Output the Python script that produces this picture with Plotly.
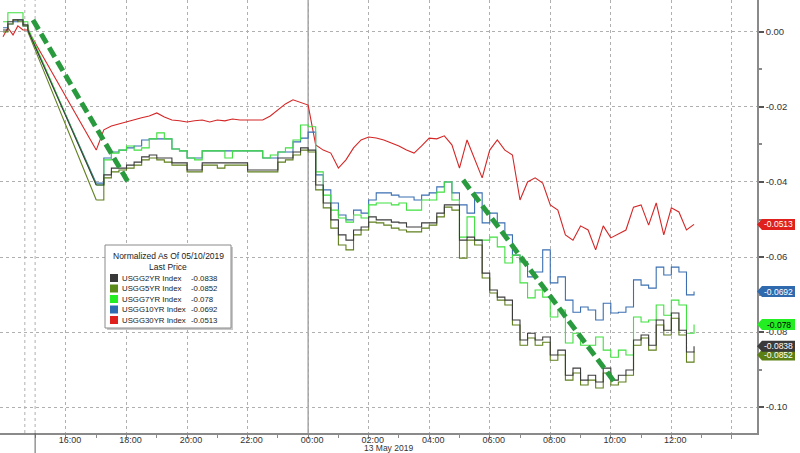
import plotly.graph_objects as go

# ---------------- data ----------------
# hours relative to 00:00 on 13 May 2019 (Friday session shown compressed before the gap)
fri_hours = [-10.08, -9.92, -9.75, -9.59, -9.42, -9.26]
sun_hours = [round(-7.0 + 0.25 * i, 2) for i in range(80)]

names = ["USGG2YR Index", "USGG5YR Index", "USGG7YR Index", "USGG10YR Index", "USGG30YR Index"]
legend_values = ["-0.0838", "-0.0852", "-0.078", "-0.0692", "-0.0513"]

usgg2_fri = [0.0005, 0.0027, 0.0032, 0.0032, 0.0019, 0.0005]
usgg2 = [-0.0408, -0.0381, -0.0363, -0.0363, -0.0355, -0.0347, -0.0333, -0.0328, -0.0336, -0.0336,
         -0.0349, -0.0349, -0.0368, -0.0368, -0.0349, -0.0349, -0.0349, -0.0349, -0.0349, -0.0349,
         -0.0368, -0.0368, -0.0368, -0.0368, -0.0336, -0.0336, -0.0320, -0.0309, -0.0315, -0.0408,
         -0.0456, -0.0501, -0.0541, -0.0555, -0.0528, -0.0520, -0.0493, -0.0501, -0.0501, -0.0507,
         -0.0509, -0.0520, -0.0520, -0.0509, -0.0509, -0.0483, -0.0461, -0.0461, -0.0555, -0.0547,
         -0.0555, -0.0643, -0.0688, -0.0707, -0.0715, -0.0768, -0.0821, -0.0803, -0.0821, -0.0813,
         -0.0861, -0.0848, -0.0915, -0.0896, -0.0928, -0.0915, -0.0933, -0.0896, -0.0928, -0.0915,
         -0.0901, -0.0821, -0.0808, -0.0835, -0.0768, -0.0795, -0.0749, -0.0795, -0.0853, -0.0838]

usgg5_fri = [0.0, 0.0021, 0.0032, 0.0027, 0.0016, 0.0]
usgg5 = [-0.0448, -0.0389, -0.0373, -0.0368, -0.0363, -0.0355, -0.0341, -0.0336, -0.0341, -0.0347,
         -0.0355, -0.0355, -0.0373, -0.0373, -0.0355, -0.0355, -0.0363, -0.0355, -0.0355, -0.0355,
         -0.0373, -0.0373, -0.0373, -0.0373, -0.0347, -0.0341, -0.0328, -0.0315, -0.0320, -0.0421,
         -0.0469, -0.0523, -0.0568, -0.0581, -0.0541, -0.0528, -0.0507, -0.0509, -0.0515, -0.0523,
         -0.0528, -0.0533, -0.0533, -0.0523, -0.0515, -0.0493, -0.0467, -0.0475, -0.0603, -0.0555,
         -0.0568, -0.0656, -0.0696, -0.0715, -0.0728, -0.0781, -0.0835, -0.0816, -0.0835, -0.0827,
         -0.0875, -0.0861, -0.0928, -0.0909, -0.0941, -0.0928, -0.0949, -0.0909, -0.0941, -0.0933,
         -0.0915, -0.0835, -0.0816, -0.0848, -0.0781, -0.0808, -0.0763, -0.0808, -0.0880, -0.0852]

usgg7_fri = [0.0027, 0.0051, 0.0051, 0.0051, 0.0027, 0.0011]
usgg7 = [-0.0408, -0.0341, -0.0323, -0.0315, -0.0304, -0.0315, -0.0309, -0.0285, -0.0269, -0.0285,
         -0.0312, -0.0317, -0.0336, -0.0341, -0.0317, -0.0317, -0.0317, -0.0336, -0.0317, -0.0317,
         -0.0317, -0.0317, -0.0336, -0.0328, -0.0320, -0.0309, -0.0288, -0.0248, -0.0253, -0.0373,
         -0.0435, -0.0475, -0.0496, -0.0507, -0.0488, -0.0496, -0.0461, -0.0456, -0.0456, -0.0461,
         -0.0456, -0.0475, -0.0475, -0.0448, -0.0448, -0.0427, -0.0400, -0.0448, -0.0547, -0.0493,
         -0.0555, -0.0555, -0.0547, -0.0573, -0.0616, -0.0595, -0.0669, -0.0709, -0.0688, -0.0707,
         -0.0760, -0.0741, -0.0829, -0.0803, -0.0835, -0.0835, -0.0813, -0.0848, -0.0867, -0.0848,
         -0.0861, -0.0760, -0.0773, -0.0768, -0.0728, -0.0755, -0.0715, -0.0728, -0.0803, -0.0780]

usgg10_fri = [0.0011, 0.0021, 0.0027, 0.0032, 0.0016, 0.0005]
usgg10 = [-0.0403, -0.0336, -0.0320, -0.0315, -0.0309, -0.0304, -0.0288, -0.0285, -0.0285, -0.0285,
          -0.0312, -0.0317, -0.0336, -0.0336, -0.0317, -0.0317, -0.0317, -0.0317, -0.0317, -0.0317,
          -0.0317, -0.0317, -0.0336, -0.0336, -0.0320, -0.0320, -0.0293, -0.0283, -0.0267, -0.0381,
          -0.0421, -0.0456, -0.0488, -0.0501, -0.0475, -0.0483, -0.0448, -0.0429, -0.0429, -0.0435,
          -0.0440, -0.0440, -0.0448, -0.0435, -0.0429, -0.0413, -0.0400, -0.0429, -0.0461, -0.0483,
          -0.0429, -0.0509, -0.0483, -0.0509, -0.0541, -0.0595, -0.0613, -0.0653, -0.0640, -0.0581,
          -0.0669, -0.0653, -0.0715, -0.0747, -0.0733, -0.0741, -0.0768, -0.0723, -0.0749, -0.0747,
          -0.0733, -0.0661, -0.0675, -0.0683, -0.0627, -0.0648, -0.0627, -0.0640, -0.0701, -0.0692]

usgg30_fri = [-0.0013, 0.0011, -0.0008, 0.0016, 0.0005, 0.0005]
usgg30 = [-0.0315, -0.0261, -0.0251, -0.0245, -0.0240, -0.0235, -0.0229, -0.0224, -0.0216, -0.0227,
          -0.0235, -0.0237, -0.0240, -0.0237, -0.0235, -0.0240, -0.0235, -0.0237, -0.0232, -0.0235,
          -0.0235, -0.0237, -0.0235, -0.0224, -0.0208, -0.0192, -0.0181, -0.0187, -0.0195, -0.0301,
          -0.0315, -0.0323, -0.0363, -0.0341, -0.0309, -0.0288, -0.0280, -0.0283, -0.0288, -0.0296,
          -0.0304, -0.0315, -0.0323, -0.0304, -0.0283, -0.0285, -0.0277, -0.0301, -0.0363, -0.0288,
          -0.0341, -0.0389, -0.0315, -0.0288, -0.0315, -0.0328, -0.0448, -0.0400, -0.0389, -0.0403,
          -0.0461, -0.0475, -0.0541, -0.0555, -0.0517, -0.0528, -0.0581, -0.0517, -0.0549, -0.0539,
          -0.0528, -0.0467, -0.0461, -0.0515, -0.0456, -0.0541, -0.0469, -0.0480, -0.0528, -0.0513]

x_tick_hours = [-8, -6, -4, -2, 0, 2, 4, 6, 8, 10, 12, 14]
x_tick_labels = ["16:00", "18:00", "20:00", "22:00", "00:00", "02:00", "04:00",
                 "06:00", "08:00", "10:00", "12:00", ""]
x_minor_hours = [-9, -7, -5, -3, -1, 1, 3, 5, 7, 9, 11, 13]
y_tick_vals = [0.0, -0.02, -0.04, -0.06, -0.08, -0.10]
y_tick_labels = ["0.00", "-0.02", "-0.04", "-0.06", "-0.08", "-0.10"]
y_minor_vals = [-0.01, -0.03, -0.05, -0.07, -0.09]

# hand-drawn trend arrows (hours, value)
trend_lines = [((-9.09, 0.0032), (-5.95, -0.0400)),
               ((5.12, -0.0395), (10.15, -0.0936))]

# ---------------- styling ----------------
line_colors = ["#3c3c3c", "#5f7f1c", "#3fe03f", "#3b6fb2", "#d42626"]
square_colors = ["#383838", "#5a8a1a", "#22ee22", "#2f6bb0", "#e0201c"]
tag_colors = ["#3a3a3a", "#5c7f14", "#22ee22", "#2f69ae", "#e0201c"]
tag_text_colors = ["white", "white", "black", "white", "white"]
tag_shift_px = [0, 3.5, 0, 0, 0]
step_series = [True, True, True, True, False]

fri_data = [usgg2_fri, usgg5_fri, usgg7_fri, usgg10_fri, usgg30_fri]
sun_data = [usgg2, usgg5, usgg7, usgg10, usgg30]

XMIN, XMAX = -10.18, 14.83
YMIN, YMAX = -0.1069, 0.0085
PW, PH = 757.0, 433.0           # plot area size in px
DY = (YMAX - YMIN) / PH          # value per px
LFONT = "Liberation Sans"


def pxx(x):
    return x / PW


def pyy(y):
    return 1 - y / PH


fig = go.Figure()

draw_order = [4, 3, 2, 1, 0]
for i in draw_order:
    shape = "hv" if step_series[i] else "linear"
    fig.add_trace(go.Scatter(x=fri_hours, y=fri_data[i], mode="lines",
                             line=dict(color=line_colors[i], width=1.1, shape=shape),
                             showlegend=False, hoverinfo="skip"))
    fig.add_trace(go.Scatter(x=[fri_hours[-1], sun_hours[0]], y=[fri_data[i][-1], sun_data[i][0]],
                             mode="lines", line=dict(color=line_colors[i], width=1.1),
                             showlegend=False, hoverinfo="skip"))
    fig.add_trace(go.Scatter(x=sun_hours, y=sun_data[i], mode="lines", name=names[i],
                             line=dict(color=line_colors[i], width=1.1, shape=shape),
                             showlegend=False, hoverinfo="skip"))

shapes = []
# extra session separators
for xh in [-9.36, -9.02]:
    shapes.append(dict(type="line", xref="x", yref="paper", x0=xh, x1=xh, y0=0, y1=1,
                       line=dict(color="#b0b0b0", width=1, dash="dot"), layer="below"))
shapes.append(dict(type="line", xref="x", yref="paper", x0=-9.02, x1=-9.02, y0=0, y1=-20 / PH,
                   line=dict(color="#606060", width=1)))
shapes.append(dict(type="line", xref="x", yref="paper", x0=0, x1=0, y0=0, y1=1,
                   line=dict(color="#707070", width=1), layer="below"))

# trend arrows
for (a, b) in trend_lines:
    shapes.append(dict(type="line", xref="x", yref="y", x0=a[0], y0=a[1], x1=b[0], y1=b[1],
                       line=dict(color="#2a9a3e", width=5, dash="11px,5px"), layer="above"))

# legend box
shapes.append(dict(type="rect", xref="paper", yref="paper",
                   x0=pxx(107), x1=pxx(233), y0=pyy(247), y1=pyy(330),
                   line=dict(width=0), fillcolor="#c8c8c8", layer="above"))
shapes.append(dict(type="rect", xref="paper", yref="paper",
                   x0=pxx(105), x1=pxx(231), y0=pyy(245), y1=pyy(328),
                   line=dict(color="#8a8a8a", width=1), fillcolor="white", layer="above"))

annotations = []


def add_text(x, y, text, size, color="#222", xanchor="center", yref="paper"):
    annotations.append(dict(x=x, y=y, xref="paper", yref=yref, text=text, showarrow=False,
                            xanchor=xanchor, yanchor="middle",
                            font=dict(family=LFONT, size=size, color=color)))


add_text(pxx(168), pyy(256), "Normalized As Of 05/10/2019", 8.5)
add_text(pxx(168), pyy(267), "Last Price", 8.5)
for k in range(5):
    ry = 278 + k * 10.5
    shapes.append(dict(type="rect", xref="paper", yref="paper",
                       x0=pxx(110), x1=pxx(118), y0=pyy(ry - 4), y1=pyy(ry + 4),
                       line=dict(width=0), fillcolor=square_colors[k], layer="above"))
    add_text(pxx(120), pyy(ry), names[k], 7.8, xanchor="left")
    add_text(pxx(189), pyy(ry), legend_values[k], 7.8, xanchor="left")

# last-price tags on right axis
for i in [4, 3, 1, 2, 0]:
    v = sun_data[i][-1] - tag_shift_px[i] * DY
    h = 5.5 * DY
    path = (f"M {pxx(757)} {v} L {pxx(762)} {v + h} L {pxx(795)} {v + h} "
            f"L {pxx(795)} {v - h} L {pxx(762)} {v - h} Z")
    shapes.append(dict(type="path", xref="paper", yref="y", path=path,
                       fillcolor=tag_colors[i], line=dict(width=0), layer="above"))
    add_text(pxx(778.5), v, legend_values[i], 8.5, color=tag_text_colors[i], yref="y")

add_text(pxx(388), pyy(448), "13 May 2019", 8.5, color="#333")

fig.update_layout(
    width=800, height=453,
    margin=dict(l=0, r=43, t=0, b=20),
    paper_bgcolor="white", plot_bgcolor="white",
    shapes=shapes, annotations=annotations,
    showlegend=False,
    font=dict(family=LFONT, size=9.5, color="#333"),
    xaxis=dict(range=[XMIN, XMAX], tickmode="array", tickvals=x_tick_hours, ticktext=x_tick_labels,
               showgrid=True, gridcolor="#b0b0b0", griddash="dot", gridwidth=1,
               showline=True, linecolor="#8a8a8a", linewidth=1.5,
               ticks="outside", ticklen=4, tickcolor="#8a8a8a", ticklabelshift=4,
               ticklabelstandoff=-7,
               minor=dict(tickmode="array", tickvals=x_minor_hours, ticks="outside", ticklen=3,
                          tickcolor="#8a8a8a", showgrid=False),
               zeroline=False, tickfont=dict(size=9, color="#333")),
    yaxis=dict(range=[YMIN, YMAX], side="right", tickmode="array", tickvals=y_tick_vals,
               ticktext=y_tick_labels, showgrid=True, gridcolor="#b0b0b0", griddash="dot",
               gridwidth=1, showline=True, linecolor="#8a8a8a", linewidth=1.5,
               ticks="outside", ticklen=5, tickwidth=2, tickcolor="#555",
               minor=dict(tickmode="array", tickvals=y_minor_vals, ticks="outside", ticklen=3,
                          tickcolor="#8a8a8a", showgrid=False),
               zeroline=False, tickfont=dict(size=9.5, color="#333")),
)

fig.write_html("out.html", config={"displayModeBar": False},
               post_script="document.body.style.margin='0';")
